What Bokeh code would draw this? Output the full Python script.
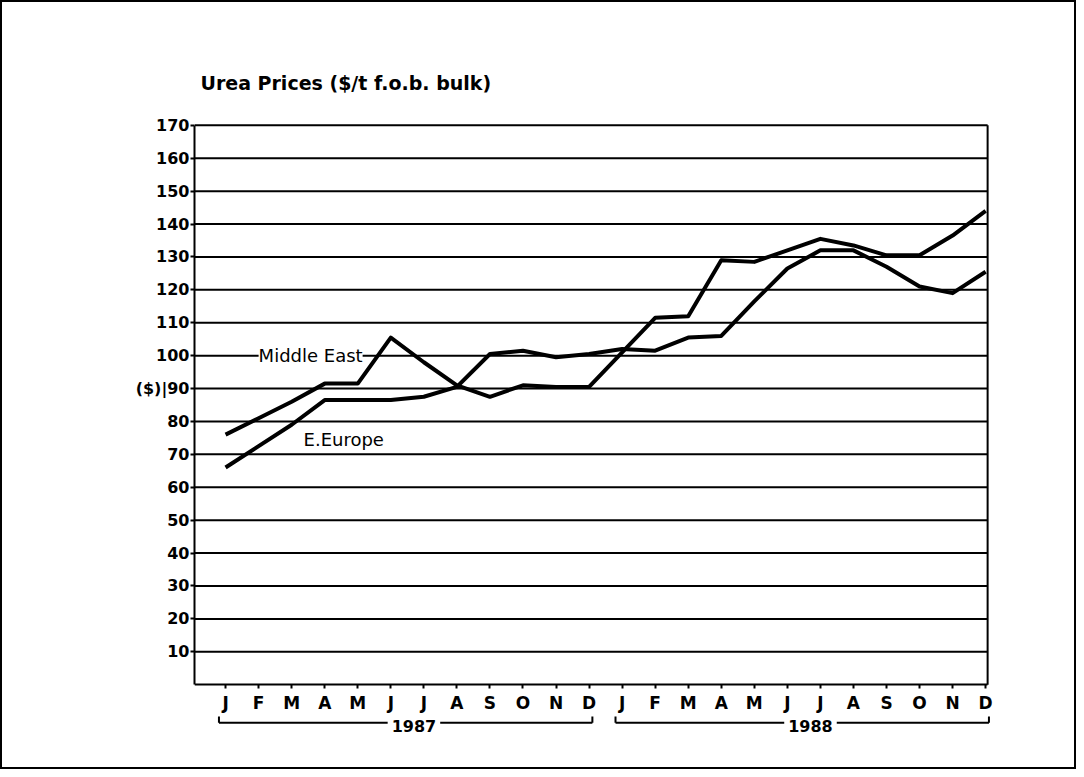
from bokeh.plotting import figure
from bokeh.models import FixedTicker, Label, Range1d
from bokeh.embed import file_html
from bokeh.resources import INLINE

# ---- data ----
months = ["J", "F", "M", "A", "M", "J", "J", "A", "S", "O", "N", "D"] * 2
month_idx = list(range(24))
years = ["1987", "1988"]
middle_east = [76, 81, 86, 91.5, 91.5, 105.5, 98, 91, 87.5, 91, 90.5, 90.5,
               101, 111.5, 112, 129, 128.5, 132, 135.5, 133.5, 130.5, 130.5, 136.5, 144]
e_europe = [66, 72.5, 79, 86.5, 86.5, 86.5, 87.5, 90.5, 100.5, 101.5, 99.5, 100.5,
            102, 101.5, 105.5, 106, 116.5, 126.5, 132, 132, 127, 121, 119, 125.5]
y_ticks = list(range(10, 180, 10))

FONT = "DejaVu Sans"
X0, X1 = -0.94, 23.06      # chart area (left axis .. right border)
Y0, Y1 = 0, 170

# frame extends beyond the chart area so that the title and year brackets
# can be drawn inside it (annotations are clipped to the frame)
p = figure(width=1076, height=769,
           x_range=Range1d(X0, 23.48), y_range=Range1d(-20.3, 189.7),
           output_backend="svg", toolbar_location=None,
           min_border_left=192, min_border_right=77,
           min_border_top=58, min_border_bottom=20)
p.styles = {"border": "2px solid black", "box-sizing": "border-box"}
p.background_fill_color = "white"
p.border_fill_color = "white"
p.outline_line_color = None

# axes
p.xaxis.fixed_location = 0
p.xaxis.bounds = (X0, X1)
p.yaxis.bounds = (Y0, Y1)
for ax in (p.xaxis, p.yaxis):
    ax.axis_line_color = "black"
    ax.axis_line_width = 2
    ax.major_tick_line_color = "black"
    ax.major_tick_line_width = 2
    ax.major_tick_in = 0
    ax.major_tick_out = 4
    ax.minor_tick_line_color = None
    ax.major_label_text_font = FONT
    ax.major_label_text_font_style = "bold"
    ax.major_label_text_color = "black"

p.yaxis.ticker = FixedTicker(ticks=y_ticks)
p.yaxis.major_label_overrides = {90: "($)|90"}
p.yaxis.major_label_standoff = 1
p.yaxis.major_label_text_font_size = "16px"

p.xaxis.ticker = FixedTicker(ticks=month_idx)
p.xaxis.major_label_overrides = {i: m for i, m in zip(month_idx, months)}
p.xaxis.major_label_standoff = 4
p.xaxis.major_label_text_font_size = "17px"

p.xgrid.visible = False
p.ygrid.visible = False

# horizontal rules at every y tick, spanning the chart area only
p.segment(x0=[X0] * len(y_ticks), y0=y_ticks, x1=[X1] * len(y_ticks), y1=y_ticks,
          line_color="black", line_width=2)
# right border of the chart area
p.segment(x0=[X1], y0=[Y0], x1=[X1], y1=[Y1], line_color="black", line_width=2)

# series
p.line(month_idx, middle_east, line_width=4, line_color="black", line_join="round")
p.line(month_idx, e_europe, line_width=4, line_color="black", line_join="round")

# series labels
p.add_layout(Label(x=1.0, y=100, text="Middle East", text_align="left",
                   text_baseline="middle", text_font=FONT, text_font_size="18px",
                   text_color="black", background_fill_color="white"))
p.add_layout(Label(x=2.36, y=74.5, text="E.Europe", text_align="left",
                   text_baseline="middle", text_font=FONT, text_font_size="18px",
                   text_color="black"))

# title
p.add_layout(Label(x=-0.76, y=182.8, text="Urea Prices ($/t f.o.b. bulk)",
                   text_align="left", text_baseline="middle", text_font=FONT,
                   text_font_style="bold", text_font_size="19px", text_color="black"))

# year brackets
by = -11.55
for k, yr in enumerate(years):
    xs = 12 * k - 0.2
    xe = 12 * k + 11 + 0.1
    p.segment(x0=[xs, xs, xe], y0=[by, by, by], x1=[xe, xs, xe], y1=[by, by + 1.9, by + 1.9],
              line_color="black", line_width=2)
    p.add_layout(Label(x=12 * k + 5.7, y=by - 1.0, text=yr, text_align="center",
                       text_baseline="middle", text_font=FONT, text_font_style="bold",
                       text_font_size="16px", text_color="black",
                       background_fill_color="white", padding=4))

open("out.html", "w").write(file_html(p, INLINE))
